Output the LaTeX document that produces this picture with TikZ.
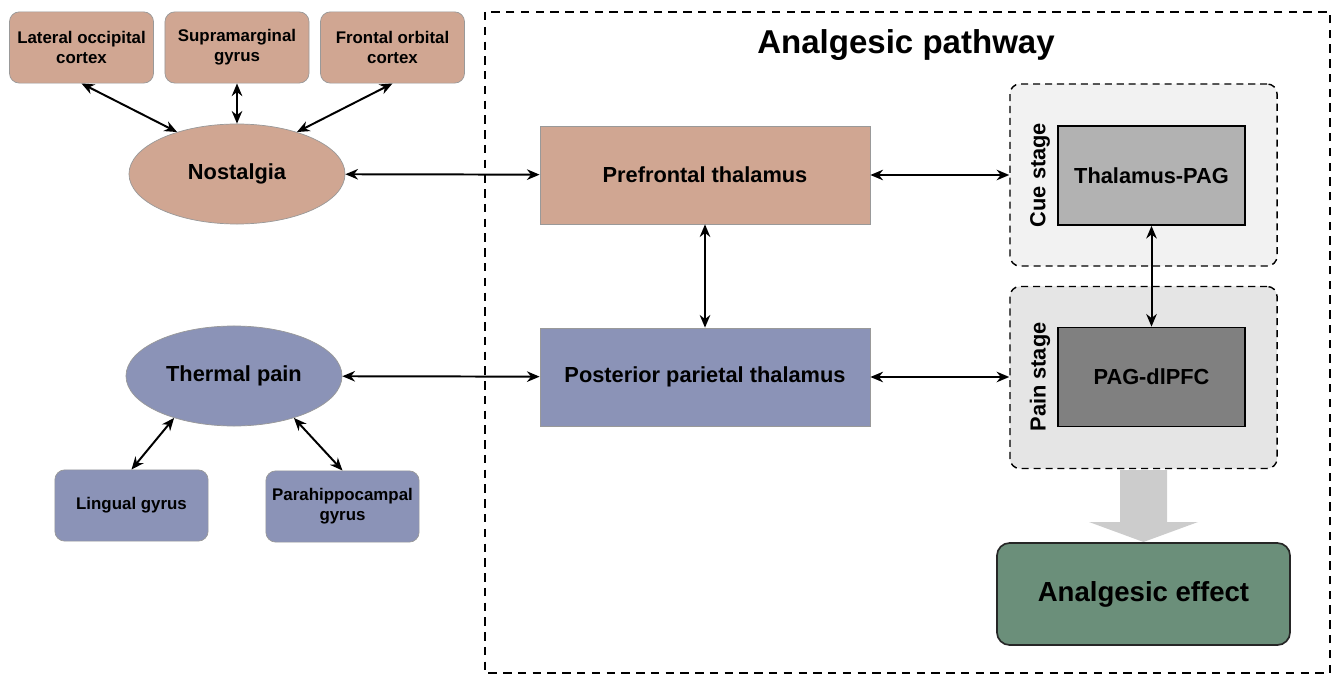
\documentclass[tikz,border=0pt]{standalone}
\usepackage{fontspec}
\setmainfont{Liberation Sans}
\usetikzlibrary{arrows.meta,shapes.geometric}
\definecolor{tan}{RGB}{208,166,146}
\definecolor{slate}{RGB}{139,147,183}
\definecolor{sage}{RGB}{107,143,122}
\tikzset{>={Stealth[length=9pt,width=7.5pt]}}
\tikzset{
	region/.style={draw=gray!80, line width=0.5pt, rounded corners=7pt, align=center,
			minimum width=3.6cm, minimum height=1.78cm, inner sep=1pt,
			font=\fontsize{12}{14.2}\selectfont\bfseries},
	stim/.style={ellipse, draw=gray!80, line width=0.5pt, minimum width=5.4cm,
			minimum height=2.5cm, inner sep=0pt, font=\fontsize{15.5}{18}\selectfont\bfseries},
	thal/.style={draw=gray!80, line width=0.5pt, minimum width=8.25cm, minimum height=2.45cm,
			font=\fontsize{15.5}{18}\selectfont\bfseries},
	stage/.style={draw, line width=1pt, dash pattern=on 5pt off 3.5pt, rounded corners=7pt,
			minimum width=6.675cm, minimum height=4.55cm},
	conn/.style={draw, line width=1.2pt, minimum width=4.675cm, minimum height=2.475cm,
			font=\fontsize{15.5}{18}\selectfont\bfseries},
	link/.style={<->, line width=1.4pt}
}

\begin{document}
\begin{tikzpicture}[x=0.025cm, y=-0.025cm]
	\useasboundingbox (0,0) rectangle (1334,675);

	% analgesic pathway frame
	\draw[line width=0.9pt, dash pattern=on 6pt off 4.5pt] (485,12) rectangle (1330,673);
	\node (title) at (906,45) {\fontsize{23.5}{28}\selectfont\bfseries Analgesic pathway};

	% nostalgia side
	\node[region, fill=tan] (loc) at (81.5,47.5) {Lateral occipital\\cortex};
	\node[region, fill=tan] (smg) at (237,47.5) {Supramarginal\\gyrus};
	\node[region, fill=tan] (foc) at (392.5,47.5) {Frontal orbital\\cortex};
	\node[stim, fill=tan] (nost) at (237,174) {Nostalgia};

	% thermal pain side
	\node[stim, fill=slate] (therm) at (234,376) {Thermal pain};
	\node[region, fill=slate, minimum width=3.83cm] (ling) at (131.5,505.5) {Lingual gyrus};
	\node[region, fill=slate, minimum width=3.83cm] (phg) at (342.5,506.5) {Parahippocampal\\gyrus};

	% thalamus
	\node[thal, fill=tan] (pft) at (705,175) {Prefrontal thalamus};
	\node[thal, fill=slate] (ppt) at (705,377) {Posterior parietal thalamus};

	% stages
	\node[stage, fill=gray!10] (cue) at (1143.5,175) {};
	\node[stage, fill=gray!20] (pain) at (1143.5,377.5) {};
	\node[conn, fill=gray!60] (tpag) at (1151.5,175.5) {Thalamus-PAG};
	\node[conn, fill=gray] (pagd) at (1151.5,377) {PAG-dlPFC};
	\node[rotate=90, font=\fontsize{15.5}{18}\selectfont\bfseries] (cuelbl) at (1040,175) {Cue stage};
	\node[rotate=90, font=\fontsize{15.5}{18}\selectfont\bfseries] (painlbl) at (1040,377) {Pain stage};

	% effect
	\node[draw=black!85, line width=1.2pt, rounded corners=9pt, fill=sage, minimum width=7.325cm,
		minimum height=2.55cm, font=\fontsize{19.6}{24}\selectfont\bfseries] (eff) at (1143.5,594) {Analgesic effect};
	\fill[gray!40] (1120,470) -- (1167,470) -- (1167,522) -- (1198,522) -- (1143.5,542)
		-- (1089,522) -- (1120,522) -- cycle;

	% links
	\draw[link] (loc.south) -- (nost.145);
	\draw[link] (smg.south) -- (nost.north);
	\draw[link] (foc.south) -- (nost.35);
	\draw[link] (therm.215) -- (ling.north);
	\draw[link] (therm.325) -- (phg.north);
	\draw[link] (nost) -- (pft);
	\draw[link] (therm) -- (ppt);
	\draw[link] (pft) -- (ppt);
	\draw[link] (pft) -- (cue);
	\draw[link] (ppt.east) -- (ppt.east -| pain.west);
	\draw[link] (tpag) -- (pagd);
\end{tikzpicture}
\end{document}
